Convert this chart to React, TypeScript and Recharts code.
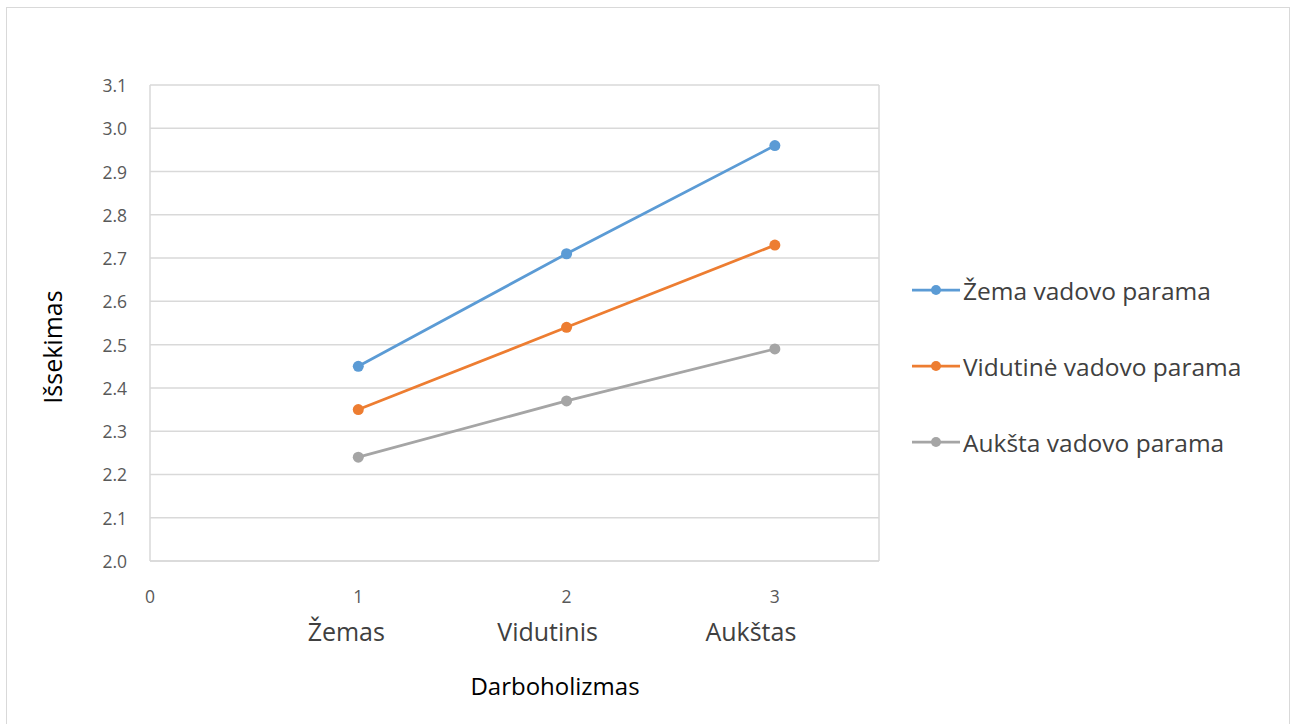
import React from 'react';
import { LineChart, Line, XAxis, YAxis, CartesianGrid, ReferenceLine } from 'recharts';

// Darboholizmas level (x) vs. Išsekimas, one line per leader-support group
const xLevels = [1, 2, 3];
const levelNames = ['Žemas', 'Vidutinis', 'Aukštas'];
const lowSupport = [2.45, 2.71, 2.96];
const midSupport = [2.35, 2.54, 2.73];
const highSupport = [2.24, 2.37, 2.49];
const seriesKeys = ['low', 'mid', 'high'];
const seriesNames = ['Žema vadovo parama', 'Vidutinė vadovo parama', 'Aukšta vadovo parama'];
const seriesColors = ['#5b9bd5', '#ed7d31', '#a5a5a5'];
const yTicks = [2.0, 2.1, 2.2, 2.3, 2.4, 2.5, 2.6, 2.7, 2.8, 2.9, 3.0, 3.1];
const xTicks = [0, 1, 2, 3];

const data = xLevels.map((x, i) => ({
  x,
  low: lowSupport[i],
  mid: midSupport[i],
  high: highSupport[i],
}));

const FONT = '"Open Sans", "Noto Sans", sans-serif';
const GRID = '#d9d9d9';
// the level-name text boxes sit a little left of their ticks
const nameShift = [-12, -19, -24];

const XTick = (props: any) => {
  const { x, y, payload } = props;
  const v = payload.value as number;
  const idx = xLevels.indexOf(v);
  const name = levelNames[idx];
  return (
    <g>
      <text x={x} y={y + 27} textAnchor="middle" dominantBaseline="central" fontSize={17.5} fill="#595959" fontFamily={FONT}>
        {v}
      </text>
      {name && (
        <text x={x + nameShift[idx]} y={y + 62} textAnchor="middle" dominantBaseline="central" fontSize={25} fill="#404040" fontFamily={FONT}>
          {name}
        </text>
      )}
    </g>
  );
};

const YTick = (props: any) => {
  const { x, y, payload } = props;
  return (
    <text x={x - 21} y={y} textAnchor="end" dominantBaseline="central" fontSize={17.5} fill="#595959" fontFamily={FONT}>
      {Number(payload.value).toFixed(1)}
    </text>
  );
};

// Legend drawn beside the plot, in series order
const SideLegend = () => (
  <div style={{ position: 'absolute', left: 912, top: 252, fontFamily: FONT }}>
    {seriesNames.map((name, i) => (
      <div key={name} style={{ display: 'flex', alignItems: 'center', height: 76 }}>
        <svg width={48} height={12} style={{ marginRight: 3 }}>
          <line x1={0} y1={6} x2={48} y2={6} stroke={seriesColors[i]} strokeWidth={2.75} />
          <circle cx={24} cy={6} r={5} fill={seriesColors[i]} />
        </svg>
        <span style={{ fontSize: 24.5, color: '#404040', whiteSpace: 'nowrap' }}>{name}</span>
      </div>
    ))}
  </div>
);

export default function App() {
  return (
    <div style={{ position: 'absolute', left: 0, top: 0, width: 1299, height: 724, background: '#fff', overflow: 'hidden' }}>
      <div
        style={{
          position: 'absolute',
          left: 6,
          top: 7,
          width: 1284,
          height: 730,
          border: '1px solid #d9d9d9',
          boxSizing: 'border-box',
        }}
      />
      <LineChart width={1299} height={724} data={data} margin={{ top: 85, right: 420, bottom: 0, left: 90 }}>
        <CartesianGrid vertical={false} stroke={GRID} strokeWidth={1.5} />
        <XAxis
          dataKey="x"
          type="number"
          domain={[0, 3.5]}
          ticks={xTicks}
          height={163}
          axisLine={{ stroke: GRID, strokeWidth: 1.5 }}
          tickLine={false}
          tick={<XTick />}
          interval={0}
          label={{
            content: (p: any) => {
              const vb = p.viewBox;
              return (
                <text x={vb.x + 405} y={vb.y + 124} textAnchor="middle" dominantBaseline="central" fontSize={24} fill="#000" fontFamily={FONT}>
                  Darboholizmas
                </text>
              );
            },
          }}
        />
        <YAxis
          type="number"
          domain={[2.0, 3.1]}
          ticks={yTicks}
          width={60}
          axisLine={{ stroke: GRID, strokeWidth: 1.5 }}
          tickLine={false}
          tickSize={0}
          tick={<YTick />}
          interval={0}
          label={{
            content: (p: any) => {
              const vb = p.viewBox;
              const cx = 52;
              const cy = vb.y + vb.height / 2 + 24;
              return (
                <text x={cx} y={cy} textAnchor="middle" dominantBaseline="central" fontSize={25} fill="#000" fontFamily={FONT} transform={`rotate(-90 ${cx} ${cy})`}>
                  Išsekimas
                </text>
              );
            },
          }}
        />
        <ReferenceLine x={3.5} stroke={GRID} strokeWidth={1.5} ifOverflow="visible" />
        {seriesKeys.map((k, i) => (
          <Line
            key={k}
            name={seriesNames[i]}
            dataKey={k}
            stroke={seriesColors[i]}
            strokeWidth={2.75}
            dot={{ r: 5.5, fill: seriesColors[i], stroke: seriesColors[i], strokeWidth: 0 }}
            isAnimationActive={false}
          />
        ))}
      </LineChart>
      <SideLegend />
    </div>
  );
}
